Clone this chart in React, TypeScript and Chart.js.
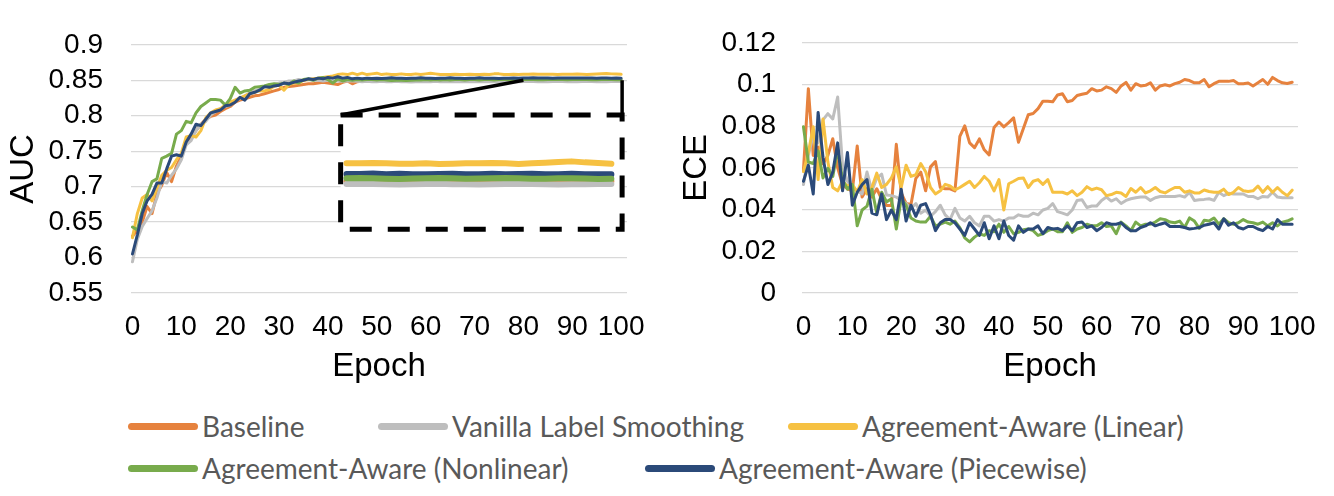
import React, { useEffect, useRef } from 'react';
import { Chart, registerables } from 'chart.js';

Chart.register(...registerables);

// --- data (epochs 0..100) ---
const epochs = Array.from({ length: 101 }, (_, i) => i);
const epochTicks = [0, 10, 20, 30, 40, 50, 60, 70, 80, 90, 100];
const aucTicks = [0.55, 0.6, 0.65, 0.7, 0.75, 0.8, 0.85, 0.9];
const eceTicks = [0, 0.02, 0.04, 0.06, 0.08, 0.1, 0.12];

const seriesNames = [
  'Baseline',
  'Vanilla Label Smoothing',
  'Agreement-Aware (Linear)',
  'Agreement-Aware (Nonlinear)',
  'Agreement-Aware (Piecewise)',
];
const seriesColors = ['#E6823E', '#BEBEBE', '#F6C142', '#78AB4C', '#2B4A79'];

const aucBaseline = [
  0.630, 0.639, 0.650, 0.672, 0.662, 0.690, 0.702, 0.720, 0.707, 0.729,
  0.743, 0.761, 0.770, 0.779, 0.788, 0.795, 0.799, 0.801, 0.806, 0.810,
  0.813, 0.819, 0.822, 0.824, 0.826, 0.828, 0.829, 0.831, 0.833, 0.835,
  0.837, 0.840, 0.841, 0.842, 0.843, 0.844, 0.845, 0.845, 0.846, 0.847,
  0.846, 0.845, 0.844, 0.847, 0.849, 0.845, 0.848, 0.849, 0.850, 0.849,
  0.850, 0.849, 0.850, 0.850, 0.849, 0.850, 0.8495, 0.850, 0.8495, 0.8495,
  0.8495, 0.850, 0.8495, 0.8495, 0.8495, 0.849, 0.8495, 0.8495, 0.8495, 0.8495,
  0.8495, 0.8495, 0.849, 0.8495, 0.8495, 0.8495, 0.8495, 0.8495, 0.8495, 0.8495,
  0.8495, 0.8495, 0.8492, 0.8495, 0.8495, 0.8497, 0.8495, 0.8495, 0.8493, 0.8495,
  0.8495, 0.8495, 0.8495, 0.8497, 0.8495, 0.8495, 0.8493, 0.8495, 0.8495, 0.8495,
  0.8495,
];
const aucVanilla = [
  0.594, 0.626, 0.644, 0.655, 0.666, 0.684, 0.707, 0.705, 0.716, 0.725,
  0.738, 0.759, 0.765, 0.779, 0.788, 0.792, 0.801, 0.806, 0.810, 0.813,
  0.815, 0.822, 0.824, 0.828, 0.832, 0.835, 0.837, 0.840, 0.842, 0.844,
  0.846, 0.847, 0.849, 0.849, 0.851, 0.850, 0.851, 0.850, 0.850, 0.849,
  0.850, 0.849, 0.849, 0.8485, 0.849, 0.849, 0.8485, 0.848, 0.8485, 0.848,
  0.848, 0.8485, 0.848, 0.848, 0.8485, 0.848, 0.848, 0.8475, 0.848, 0.848,
  0.848, 0.848, 0.8485, 0.848, 0.848, 0.848, 0.8478, 0.848, 0.848, 0.8482,
  0.848, 0.848, 0.8478, 0.848, 0.848, 0.8482, 0.848, 0.848, 0.848, 0.848,
  0.8482, 0.8483, 0.8482, 0.848, 0.8479, 0.848, 0.8482, 0.8483, 0.8481, 0.848,
  0.8479, 0.848, 0.8482, 0.8483, 0.8482, 0.848, 0.8479, 0.848, 0.8481, 0.8482,
  0.8482,
];
const aucLinear = [
  0.628, 0.662, 0.684, 0.689, 0.680, 0.698, 0.716, 0.723, 0.727, 0.738,
  0.747, 0.770, 0.772, 0.770, 0.779, 0.797, 0.804, 0.808, 0.810, 0.815,
  0.819, 0.822, 0.825, 0.828, 0.831, 0.833, 0.835, 0.835, 0.837, 0.842,
  0.843, 0.836, 0.844, 0.846, 0.846, 0.850, 0.851, 0.852, 0.853, 0.854,
  0.855, 0.856, 0.858, 0.859, 0.858, 0.860, 0.858, 0.860, 0.858, 0.859,
  0.860, 0.858, 0.859, 0.858, 0.858, 0.859, 0.858, 0.858, 0.859, 0.858,
  0.859, 0.860, 0.859, 0.858, 0.858, 0.858, 0.8585, 0.858, 0.858, 0.8585,
  0.858, 0.858, 0.8585, 0.858, 0.859, 0.859, 0.858, 0.858, 0.8585, 0.858,
  0.8585, 0.8585, 0.8587, 0.8585, 0.8583, 0.8583, 0.8585, 0.8582, 0.8583, 0.8585,
  0.8585, 0.8587, 0.8585, 0.8582, 0.8585, 0.8588, 0.8592, 0.8595, 0.859, 0.8587,
  0.8583,
];
const aucNonlinear = [
  0.643, 0.639, 0.666, 0.689, 0.707, 0.711, 0.740, 0.743, 0.747, 0.774,
  0.779, 0.792, 0.790, 0.804, 0.813, 0.818, 0.823, 0.823, 0.822, 0.815,
  0.824, 0.840, 0.832, 0.835, 0.836, 0.840, 0.841, 0.842, 0.844, 0.845,
  0.844, 0.846, 0.844, 0.849, 0.846, 0.851, 0.852, 0.850, 0.853, 0.854,
  0.851, 0.846, 0.852, 0.849, 0.851, 0.850, 0.851, 0.8505, 0.851, 0.851,
  0.8505, 0.851, 0.8505, 0.8495, 0.850, 0.850, 0.8495, 0.850, 0.8505, 0.8505,
  0.851, 0.8505, 0.851, 0.8505, 0.851, 0.8505, 0.851, 0.851, 0.8505, 0.851,
  0.851, 0.8505, 0.851, 0.851, 0.8505, 0.851, 0.851, 0.851, 0.8505, 0.851,
  0.8511, 0.8512, 0.851, 0.8508, 0.8507, 0.8509, 0.8511, 0.8512, 0.851, 0.8508,
  0.8509, 0.8511, 0.8512, 0.851, 0.8508, 0.8508, 0.851, 0.8511, 0.8509, 0.8507,
  0.8508,
];
const aucPiecewise = [
  0.605, 0.632, 0.662, 0.680, 0.689, 0.705, 0.705, 0.725, 0.743, 0.745,
  0.743, 0.763, 0.774, 0.788, 0.786, 0.795, 0.804, 0.806, 0.808, 0.814,
  0.815, 0.819, 0.826, 0.822, 0.831, 0.833, 0.836, 0.841, 0.840, 0.842,
  0.843, 0.846, 0.845, 0.847, 0.849, 0.850, 0.852, 0.851, 0.853, 0.852,
  0.854, 0.853, 0.855, 0.853, 0.854, 0.852, 0.853, 0.852, 0.853, 0.8525,
  0.853, 0.8525, 0.853, 0.8535, 0.853, 0.853, 0.8525, 0.853, 0.853, 0.8535,
  0.853, 0.853, 0.8525, 0.853, 0.853, 0.8535, 0.853, 0.853, 0.8525, 0.853,
  0.853, 0.8535, 0.853, 0.853, 0.853, 0.8525, 0.853, 0.853, 0.8533, 0.853,
  0.8532, 0.8532, 0.8534, 0.8531, 0.8533, 0.8531, 0.853, 0.8532, 0.8533, 0.8531,
  0.8531, 0.8533, 0.8531, 0.8532, 0.8533, 0.853, 0.8531, 0.8533, 0.853, 0.8531,
  0.853,
];

const eceBaseline = [
  0.059, 0.098, 0.066, 0.07, 0.062, 0.066, 0.074, 0.06, 0.052, 0.05,
  0.049, 0.0705, 0.046, 0.05, 0.046, 0.05, 0.045, 0.042, 0.042, 0.0713,
  0.048, 0.043, 0.0425, 0.055, 0.058, 0.049, 0.0605, 0.063, 0.0506, 0.05,
  0.05, 0.049, 0.0751, 0.0802, 0.072, 0.0697, 0.0739, 0.0687, 0.0662, 0.0794,
  0.082, 0.0797, 0.0817, 0.084, 0.0723, 0.0789, 0.0855, 0.0861, 0.0884, 0.092,
  0.092, 0.0917, 0.095, 0.0956, 0.0917, 0.0923, 0.0947, 0.0953, 0.0958, 0.098,
  0.0969, 0.0973, 0.0989, 0.098, 0.0962, 0.0993, 0.101, 0.0973, 0.1004, 0.0993,
  0.0996, 0.1008, 0.0973, 0.0993, 0.0999, 0.0993, 0.1004, 0.1011, 0.1024, 0.1019,
  0.1008, 0.1008, 0.1024, 0.0989, 0.1004, 0.1015, 0.1015, 0.1015, 0.1019, 0.1004,
  0.1004, 0.1007, 0.0993, 0.1008, 0.1024, 0.1001, 0.1034, 0.1019, 0.1008, 0.1005,
  0.1011,
];
const eceVanilla = [
  0.052, 0.066, 0.076, 0.072, 0.083, 0.086, 0.0835, 0.094, 0.061, 0.0536,
  0.0506, 0.049, 0.0475, 0.058, 0.049, 0.055, 0.057, 0.047, 0.0467, 0.046,
  0.0444, 0.0429, 0.0406, 0.0429, 0.0383, 0.0398, 0.0368, 0.039, 0.0421, 0.0375,
  0.0352, 0.0406, 0.036, 0.0345, 0.0368, 0.0337, 0.0322, 0.0368, 0.0368, 0.0345,
  0.0352, 0.0345, 0.036, 0.036, 0.0375, 0.0368, 0.0368, 0.0383, 0.0375, 0.0398,
  0.0406, 0.0429, 0.039, 0.0383, 0.0375, 0.0398, 0.0444, 0.0447, 0.041, 0.0417,
  0.0417, 0.0444, 0.046, 0.0441, 0.0452, 0.0429, 0.0444, 0.0452, 0.0457, 0.046,
  0.046, 0.0444, 0.0457, 0.0463, 0.0463, 0.0463, 0.0463, 0.0467, 0.046, 0.0483,
  0.0444, 0.0447, 0.0449, 0.0452, 0.0444, 0.0483, 0.0467, 0.0478, 0.0475, 0.0475,
  0.0475, 0.0463, 0.0463, 0.0452, 0.0463, 0.046, 0.0483, 0.046, 0.0457, 0.0457,
  0.0457,
];
const eceLinear = [
  0.0582, 0.0674, 0.0797, 0.0544, 0.0835, 0.0628, 0.0506, 0.049, 0.0536, 0.0513,
  0.0521, 0.0483, 0.0544, 0.0475, 0.0506, 0.0575, 0.0506, 0.0521, 0.0552, 0.0605,
  0.0506, 0.0613, 0.0559, 0.0567, 0.0621, 0.0582, 0.0506, 0.0475, 0.049, 0.0521,
  0.0513, 0.0495, 0.0506, 0.0521, 0.0536, 0.0506, 0.0529, 0.0559, 0.0536, 0.049,
  0.0544, 0.0398, 0.0524, 0.0536, 0.0549, 0.0552, 0.0506, 0.0536, 0.0544, 0.0521,
  0.0544, 0.0483, 0.0483, 0.0483, 0.0475, 0.049, 0.0467, 0.0483, 0.051, 0.0495,
  0.0503, 0.0495, 0.0467, 0.0472, 0.0483, 0.048, 0.0463, 0.0501, 0.0483, 0.0506,
  0.048, 0.049, 0.0506, 0.0487, 0.048, 0.0494, 0.0506, 0.0506, 0.0483, 0.049,
  0.048, 0.048, 0.0494, 0.0487, 0.0483, 0.0483, 0.0498, 0.0472, 0.0483, 0.0506,
  0.049, 0.0487, 0.049, 0.0513, 0.0483, 0.051, 0.0483, 0.0506, 0.0483, 0.0467,
  0.0493,
];
const eceNonlinear = [
  0.0797, 0.0628, 0.0621, 0.0682, 0.0552, 0.0598, 0.0559, 0.069, 0.0544, 0.0498,
  0.0521, 0.0322, 0.0398, 0.0417, 0.0498, 0.0383, 0.0483, 0.0437, 0.0452, 0.0307,
  0.0452, 0.0421, 0.036, 0.0345, 0.034, 0.034, 0.0368, 0.0322, 0.033, 0.034,
  0.033, 0.0345, 0.0314, 0.0264, 0.0245, 0.0268, 0.0284, 0.0276, 0.0299, 0.0294,
  0.033, 0.0291, 0.0319, 0.0284, 0.0291, 0.0303, 0.0307, 0.0299, 0.0276, 0.0284,
  0.0299, 0.0307, 0.0294, 0.0294, 0.0337, 0.0291, 0.0307, 0.0314, 0.033, 0.0322,
  0.0322, 0.0337, 0.0319, 0.0322, 0.0284, 0.034, 0.0322, 0.0299, 0.034, 0.0322,
  0.033, 0.033, 0.034, 0.0356, 0.0352, 0.034, 0.0337, 0.0345, 0.0314, 0.036,
  0.0345, 0.031, 0.0349, 0.0345, 0.036, 0.033, 0.0356, 0.0337, 0.033, 0.0337,
  0.0352, 0.034, 0.0337, 0.033, 0.034, 0.0322, 0.0337, 0.0322, 0.034, 0.0345,
  0.0356,
];
const ecePiecewise = [
  0.0536, 0.0613, 0.0475, 0.0866, 0.065, 0.052, 0.058, 0.072, 0.049, 0.0674,
  0.0421, 0.0483, 0.052, 0.0544, 0.0383, 0.0375, 0.0475, 0.0352, 0.0398, 0.0352,
  0.0498, 0.0345, 0.0421, 0.0368, 0.0421, 0.0429, 0.0375, 0.0299, 0.0337, 0.0352,
  0.0352, 0.0337, 0.0307, 0.0276, 0.0337, 0.0307, 0.0276, 0.0337, 0.026, 0.0322,
  0.026, 0.0345, 0.0276, 0.0253, 0.0322, 0.0291, 0.0307, 0.0307, 0.0322, 0.0284,
  0.0314, 0.0307, 0.031, 0.0299, 0.0322, 0.0299, 0.0337, 0.034, 0.0314, 0.0322,
  0.0299, 0.0314, 0.0337, 0.033, 0.033, 0.0337, 0.0314, 0.0299, 0.0299, 0.0314,
  0.0322, 0.0337, 0.0322, 0.033, 0.0337, 0.0319, 0.0319, 0.0319, 0.0314, 0.0307,
  0.031, 0.0314, 0.0325, 0.033, 0.0337, 0.0307, 0.0356, 0.0325, 0.0337, 0.0314,
  0.0307, 0.0319, 0.0319, 0.0307, 0.0299, 0.0319, 0.0307, 0.0352, 0.033, 0.033,
  0.033,
];

const aucSeries = [aucBaseline, aucVanilla, aucLinear, aucNonlinear, aucPiecewise];
const eceSeries = [eceBaseline, eceVanilla, eceLinear, eceNonlinear, ecePiecewise];

// --- layout (pixels / axis units), not data ---
const X_MIN = -0.3;
const X_MAX = 101.2;
const TICK_FONT = { family: 'Liberation Sans, Arial, sans-serif', size: 28 };
const TITLE_FONT = { family: 'Liberation Sans, Arial, sans-serif', size: 33 };

// magnified window of the AUC plot: epochs 80-100 redrawn inside the dashed box
const ZOOM = { from: 80, to: 100, hi: 0.8585, lo: 0.8482 };
const BOX = { left: 42.6, right: 100.2, top: 0.801, bottom: 0.64 };
const INNER = { left: 43.8, right: 98.0, hiAt: 0.7328, loAt: 0.7038 };
const kx = (INNER.right - INNER.left) / (ZOOM.to - ZOOM.from);
const ky = (INNER.hiAt - INNER.loAt) / (ZOOM.hi - ZOOM.lo);
const xiMin = ZOOM.from + (X_MIN - INNER.left) / kx;
const xiMax = ZOOM.from + (X_MAX - INNER.left) / kx;
const yiMin = ZOOM.hi + (0.55 - INNER.hiAt) / ky;
const yiMax = ZOOM.hi + (0.9 - INNER.hiAt) / ky;

const insetPlugin = {
  id: 'inset',
  beforeDatasetsDraw(chart: any) {
    const { ctx, scales } = chart;
    const x = scales.x, y = scales.y;
    const l = x.getPixelForValue(BOX.left), r = x.getPixelForValue(BOX.right);
    const t = y.getPixelForValue(BOX.top), b = y.getPixelForValue(BOX.bottom);
    ctx.save();
    ctx.fillStyle = '#ffffff';
    ctx.fillRect(l, t, r - l, b - t);
    ctx.restore();
  },
  afterDatasetsDraw(chart: any) {
    const { ctx, scales } = chart;
    const x = scales.x, y = scales.y;
    const l = x.getPixelForValue(BOX.left), r = x.getPixelForValue(BOX.right);
    const t = y.getPixelForValue(BOX.top), b = y.getPixelForValue(BOX.bottom);
    ctx.save();
    ctx.strokeStyle = '#000000';
    ctx.lineWidth = 3.5;
    ctx.beginPath();
    ctx.moveTo(x.getPixelForValue(ZOOM.from), y.getPixelForValue(0.85));
    ctx.lineTo(l, t);
    ctx.moveTo(r, y.getPixelForValue(0.85));
    ctx.lineTo(r, t);
    ctx.stroke();
    ctx.lineWidth = 5;
    ctx.setLineDash([22, 16]);
    ctx.strokeRect(l, t, r - l, b - t);
    ctx.restore();
  },
};

type ChartProps = {
  series: number[][];
  ticks: number[];
  yMin: number;
  yMax: number;
  title: string;
  axisWidth: number;
  titlePad: number;
  labelPad: number;
  padRight: number;
  inset?: boolean;
};

function MetricChart({ series, ticks, yMin, yMax, title, axisWidth, titlePad, labelPad, padRight, inset }: ChartProps) {
  const canvasRef = useRef<HTMLCanvasElement>(null);

  useEffect(() => {
    if (!canvasRef.current) return;
    const datasets: any[] = series.map((vals, i) => ({
      label: seriesNames[i],
      data: vals.map((v, j) => ({ x: epochs[j], y: v })),
      borderColor: seriesColors[i],
      borderWidth: 3,
      xAxisID: 'x',
      yAxisID: 'y',
      order: 10 - i,
    }));
    const scales: any = {
      x: {
        type: 'linear',
        min: X_MIN,
        max: X_MAX,
        afterBuildTicks: (s: any) => { s.ticks = epochTicks.map((value) => ({ value })); },
        afterFit: (s: any) => { s.height = 107; },
        grid: { display: false, drawTicks: false },
        border: { display: false },
        ticks: { font: TICK_FONT, color: '#000', padding: 17, autoSkip: false, maxRotation: 0, callback: (v: number) => String(v) },
        title: { display: true, text: 'Epoch', font: TITLE_FONT, color: '#000', padding: { top: 0, bottom: 13 } },
      },
      y: {
        type: 'linear',
        min: yMin,
        max: yMax,
        afterBuildTicks: (s: any) => { s.ticks = ticks.map((value) => ({ value })); },
        afterFit: (s: any) => { s.width = axisWidth; },
        grid: { color: '#d9d9d9', lineWidth: 1.2, drawTicks: false },
        border: { display: false },
        ticks: { font: TICK_FONT, color: '#000', padding: labelPad, autoSkip: false, callback: (v: number) => String(v) },
        title: { display: true, text: title, font: TITLE_FONT, color: '#000', padding: { top: titlePad, bottom: 0 } },
      },
    };
    if (inset) {
      // same series, epochs 80-100, on hidden magnified axes
      series.forEach((vals, i) => {
        const pts = [];
        for (let j = ZOOM.from; j <= ZOOM.to; j++) pts.push({ x: epochs[j], y: vals[j] });
        datasets.push({
          label: seriesNames[i] + ' (zoom)',
          data: pts,
          borderColor: seriesColors[i],
          borderWidth: 6,
          xAxisID: 'xi',
          yAxisID: 'yi',
          order: [20, 19, 17, 16, 18][i],
        });
      });
      scales.xi = { type: 'linear', display: false, min: xiMin, max: xiMax };
      scales.yi = { type: 'linear', display: false, min: yiMin, max: yiMax };
    }

    const chart = new Chart(canvasRef.current, {
      type: 'line',
      data: { datasets },
      options: {
        animation: false,
        responsive: false,
        events: [],
        layout: { padding: { top: 32, right: padRight, bottom: 0, left: 0 } },
        elements: {
          point: { radius: 0 },
          line: { tension: 0, borderCapStyle: 'round', borderJoinStyle: 'round' },
        },
        plugins: { legend: { display: false }, tooltip: { enabled: false } },
        scales,
      } as any,
      plugins: inset ? [insetPlugin] : [],
    });
    return () => chart.destroy();
  }, []);

  return <canvas ref={canvasRef} width={664} height={400} style={{ width: 664, height: 400, display: 'block' }} />;
}

const legendSpots = [
  { left: 128, top: 426 },
  { left: 378, top: 426 },
  { left: 788, top: 426 },
  { left: 128, top: 468 },
  { left: 645, top: 468 },
];

export default function App() {
  return (
    <div style={{ position: 'absolute', left: 0, top: 0, width: 1334, height: 496, background: '#fff', overflow: 'hidden' }}>
      <div style={{ position: 'absolute', left: 0, top: 0 }}>
        <MetricChart series={aucSeries} ticks={aucTicks} yMin={0.55} yMax={0.9} title="AUC"
          axisWidth={131} titlePad={4} labelPad={28} padRight={37} inset />
      </div>
      <div style={{ position: 'absolute', left: 670, top: 0 }}>
        <MetricChart series={eceSeries} ticks={eceTicks} yMin={0} yMax={0.12} title="ECE"
          axisWidth={132} titlePad={7} labelPad={26} padRight={36} />
      </div>
      {seriesNames.map((name, i) => (
        <div key={name} style={{
          position: 'absolute', left: legendSpots[i].left, top: legendSpots[i].top, transform: 'translateY(-50%)',
          display: 'flex', alignItems: 'center', whiteSpace: 'nowrap',
        }}>
          <span style={{ display: 'inline-block', width: 70, height: 7, borderRadius: 4, background: seriesColors[i] }} />
          <span style={{ marginLeft: 4, fontFamily: 'Lato, sans-serif', fontSize: 28, color: '#595959', lineHeight: '34px' }}>{name}</span>
        </div>
      ))}
    </div>
  );
}
